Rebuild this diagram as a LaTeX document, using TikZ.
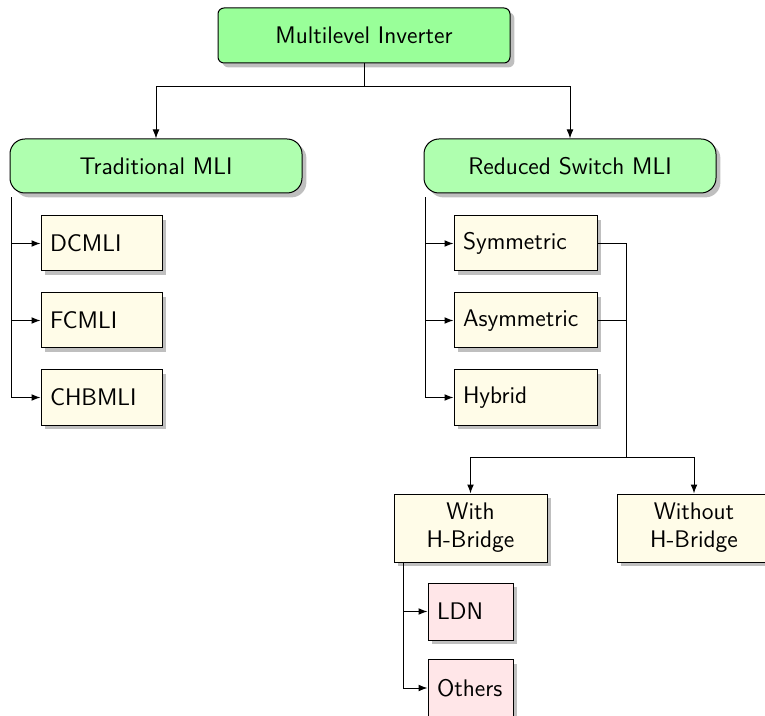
\documentclass[tikz,border=0pt]{standalone}
\usetikzlibrary{shadows,arrows.meta}
\definecolor{topgreen}{RGB}{153,255,153}
\definecolor{midgreen}{RGB}{175,255,175}
\definecolor{leafyellow}{RGB}{255,252,232}
\definecolor{leafpink}{RGB}{255,230,232}
\tikzset{
  base/.style={draw, line width=0.5pt, font=\sffamily\fontsize{12}{14}\selectfont,
    drop shadow={shadow xshift=2.2pt, shadow yshift=-2.2pt, opacity=0.5, fill=black!50}},
  topbox/.style={base, fill=topgreen, rounded corners=3pt, minimum width=146pt, minimum height=27.5pt},
  midbox/.style={base, fill=midgreen, rounded corners=7.5pt, minimum width=146pt, minimum height=27pt},
  leafbox/.style={base, fill=leafyellow, minimum height=27.5pt, inner xsep=4.5pt, align=left},
  hbox/.style={base, fill=leafyellow, minimum width=76.5pt, minimum height=34pt, align=center, inner sep=2pt},
  pinkbox/.style={base, fill=leafpink, minimum height=28.5pt, inner xsep=4.5pt, align=left},
  conn/.style={line width=0.5pt},
  arr/.style={conn, -{Latex[length=4.5pt,width=3.4pt]}}
}
\begin{document}
\begin{tikzpicture}[x=1pt,y=1pt]
\useasboundingbox (0,0) rectangle (382.5,-358);
\begin{scope}
\clip (0,0) rectangle (382.5,-358);
\node[topbox] (top) at (182,-17.75) {Multilevel Inverter};
\node[midbox] (trad) at (78,-83) {Traditional MLI};
\node[midbox] (red) at (285,-83) {Reduced Switch MLI};

\node[leafbox, text width=51.5pt] (dc) at (50.75,-121.75) {DCMLI};
\node[leafbox, text width=51.5pt] (fc) at (50.75,-160.25) {FCMLI};
\node[leafbox, text width=51.5pt] (chb) at (50.75,-198.75) {CHBMLI};

\node[leafbox, text width=62.5pt] (sym) at (262.75,-121.75) {Symmetric};
\node[leafbox, text width=62.5pt] (asym) at (262.75,-160.25) {Asymmetric};
\node[leafbox, text width=62.5pt] (hyb) at (262.75,-198.75) {Hybrid};

\node[hbox] (with) at (235.25,-264) {With\\H-Bridge};
\node[hbox, minimum width=77pt] (without) at (347,-264) {Without\\H-Bridge};

\node[pinkbox, text width=33.5pt] (ldn) at (235.25,-305.75) {LDN};
\node[pinkbox, text width=33.5pt] (oth) at (235.25,-344) {Others};

\coordinate (j1) at (182,-43.5);
\draw[conn] (top.south) -- (j1);
\draw[arr] (j1) -| (trad.north);
\draw[arr] (j1) -| (red.north);

\coordinate (ts) at ([xshift=1pt,yshift=-2pt]trad.south west);
\draw[arr] (ts) |- (dc.west);
\draw[arr] (ts) |- (fc.west);
\draw[arr] (ts) |- (chb.west);

\coordinate (rs) at ([xshift=1pt,yshift=-2pt]red.south west);
\draw[arr] (rs) |- (sym.west);
\draw[arr] (rs) |- (asym.west);
\draw[arr] (rs) |- (hyb.west);

\coordinate (j2) at (313,-228.5);
\draw[conn] (sym.east) -| (j2);
\draw[conn] (asym.east) -| (j2);
\draw[arr] (j2) -| (with.north);
\draw[arr] (j2) -| (without.north);

\coordinate (ws) at ([xshift=5pt]with.south west);
\draw[arr] (ws) |- (ldn.west);
\draw[arr] (ws) |- (oth.west);
\end{scope}
\end{tikzpicture}
\end{document}
